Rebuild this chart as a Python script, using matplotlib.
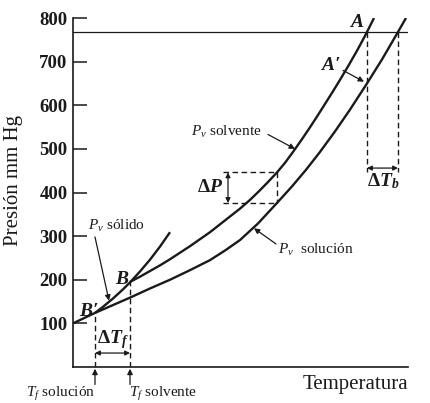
import matplotlib.pyplot as plt

plt.rcParams['font.family'] = 'Liberation Serif'
plt.rcParams['mathtext.fontset'] = 'custom'
plt.rcParams['mathtext.rm'] = 'Liberation Serif'
plt.rcParams['mathtext.it'] = 'Liberation Serif:italic'
plt.rcParams['mathtext.bf'] = 'Liberation Serif:bold'
plt.rcParams['mathtext.bfit'] = 'Liberation Serif:bold:italic'

# readings (temperature in arbitrary units, pressure in mm Hg)
t_solvente = [57, 67, 77, 87, 97, 107, 117, 127, 137, 147, 157, 167, 177, 186, 195,
              204, 212, 220, 228, 236, 244, 252, 260, 268, 276, 284, 292, 301]
p_solvente = [195, 207, 220, 233, 247, 262, 277, 293, 309, 327, 345, 363, 383, 403, 424,
              446, 468, 493, 519, 546, 574, 603, 632, 662, 693, 725, 759, 800]

t_solucion = [0, 22, 40, 57, 77, 97, 117, 137, 152, 167, 185, 204, 219, 233, 247,
              262, 277, 294, 309, 324, 333]
p_solucion = [100, 124, 142, 159, 180, 200, 222, 245, 267, 291, 329, 376, 414, 452, 493,
              540, 590, 650, 705, 764, 800]

t_solido = [22, 30, 40, 50, 57, 67, 77, 87, 97]
p_solido = [124, 138, 157, 178, 194, 219, 246, 276, 309]

p_atm = 768
yticks = [100, 200, 300, 400, 500, 600, 700, 800]

# special points
t_f_solucion, p_b_prima = 22, 124
t_f_solvente, p_b = 57, 195
t_b_solvente, t_b_solucion = 294, 325
p_a_prima = 650
dp_t_left, dp_t_right = 150, 204
dp_top, dp_bottom = 446, 376

ink = '#1a1a1a'

fig = plt.figure(figsize=(4.31, 4.03), dpi=100)
ax = fig.add_axes([73 / 431, 1 - 367 / 403, 335 / 431, 349 / 403])
ax.set_xlim(0, 335)
ax.set_ylim(0, 800)

for s in ['top', 'right']:
    ax.spines[s].set_visible(False)
for s in ['left', 'bottom']:
    ax.spines[s].set_linewidth(1.2)
    ax.spines[s].set_color(ink)

ax.set_xticks([])
ax.set_yticks(yticks)
ax.tick_params(axis='y', direction='in', length=10, width=1.1, pad=4, colors=ink)
for lab in ax.get_yticklabels():
    lab.set_fontweight('bold')
    lab.set_fontsize(13.5)

# curves
ax.axhline(p_atm, color=ink, lw=0.9)
ax.plot(t_solvente, p_solvente, color=ink, lw=1.7, solid_capstyle='butt')
ax.plot(t_solucion, p_solucion, color=ink, lw=1.7, solid_capstyle='butt')
ax.plot(t_solido, p_solido, color=ink, lw=1.7, solid_capstyle='butt')

dash = dict(color=ink, lw=1.0, ls=(0, (4, 2.5)))
ax.plot([t_f_solucion, t_f_solucion], [0, p_b_prima], **dash)
ax.plot([t_f_solvente, t_f_solvente], [0, p_b], **dash)
ax.plot([t_b_solvente, t_b_solvente], [p_atm, 447], **dash)
ax.plot([t_b_solucion, t_b_solucion], [p_atm, 447], **dash)
ax.plot([dp_t_left, dp_t_right], [dp_top, dp_top], **dash)
ax.plot([dp_t_left, dp_t_right], [dp_bottom, dp_bottom], **dash)
ax.plot([dp_t_right, dp_t_right], [dp_top, dp_bottom], **dash)

dbl = dict(arrowstyle='<|-|>', color=ink, lw=0.9, mutation_scale=7, shrinkA=0, shrinkB=0)
one = dict(arrowstyle='-|>', color=ink, lw=0.9, mutation_scale=8, shrinkA=0, shrinkB=0)
ax.annotate('', xy=(t_f_solucion, 32), xytext=(t_f_solvente, 32), arrowprops=dbl)
ax.annotate('', xy=(t_b_solvente, 456), xytext=(t_b_solucion, 456), arrowprops=dbl)
ax.annotate('', xy=(155, dp_top), xytext=(155, dp_bottom), arrowprops=dbl)

# labels
big = dict(fontsize=14, ha='center', va='center', color=ink)
ax.text(284, 790, r'$\mathbfit{A}$', **big)
ax.text(257, 690, r'$\mathbfit{A\prime}$', **big)
ax.text(49, 200, r'$\mathbfit{B}$', **big)
ax.text(16, 128, r'$\mathbfit{B\prime}$', **big)
ax.text(137, 411, r'$\mathbf{\Delta}\mathbfit{P}$', **big)
ax.text(310, 425, r'$\mathbf{\Delta}\mathbfit{T_b}$', **big)
ax.text(40, 62, r'$\mathbf{\Delta}\mathbfit{T_f}$', **big)

small = dict(fontsize=11, ha='center', va='center', color=ink)
ax.text(44, 323, r'$P_v$ sólido', **small)
ax.annotate('', xy=(36, 152), xytext=(22, 298), arrowprops=one)
ax.text(153, 539, r'$P_v$ solvente', **small)
ax.annotate('', xy=(222, 500), xytext=(195, 533), arrowprops=one)
ax.text(243, 268, r'$P_v$  solución', **small)
ax.annotate('', xy=(181, 318), xytext=(203, 282), arrowprops=one)
ax.annotate('', xy=(t_b_solvente - 3, p_a_prima + 4), xytext=(270, 680), arrowprops=one)

ax.text(-12, -62, r'$T_f$ solución', **small)
ax.text(90, -62, r'$T_f$ solvente', **small)
ax.annotate('', xy=(t_f_solucion, -4), xytext=(t_f_solucion, -40), arrowprops=one,
            annotation_clip=False)
ax.annotate('', xy=(t_f_solvente, -4), xytext=(t_f_solvente, -40), arrowprops=one,
            annotation_clip=False)

fig.text(14 / 431, 1 - 181 / 403, 'Presión mm Hg', rotation=90, ha='center', va='center',
         fontsize=15, color=ink)
fig.text(408 / 431, 1 - 384 / 403, 'Temperatura', ha='right', va='center', fontsize=15, color=ink)

fig.savefig('out.png', dpi=100, facecolor='white')
